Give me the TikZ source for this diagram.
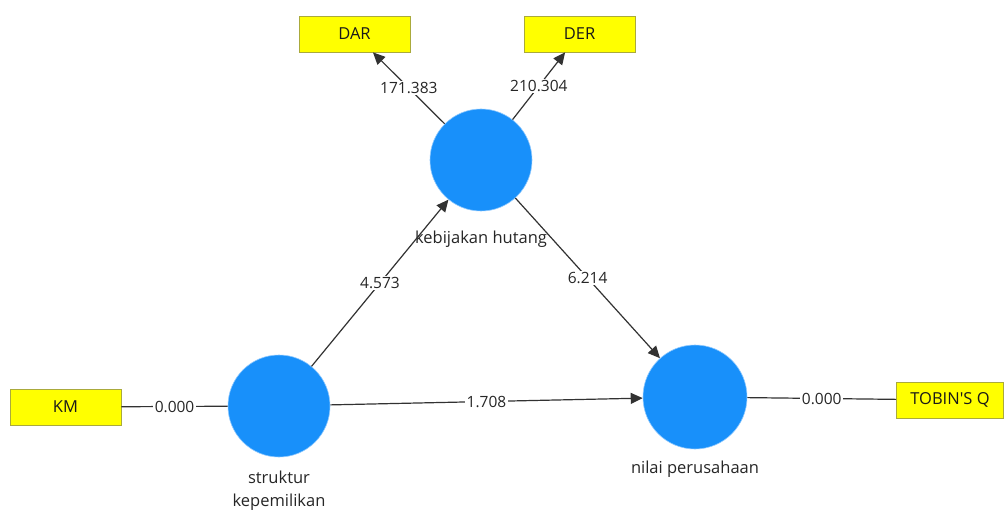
\documentclass[tikz,border=0pt]{standalone}
\usepackage{fontspec}
\setmainfont{Open Sans}
\usetikzlibrary{arrows.meta}
\definecolor{lvblue}{RGB}{24,144,250}
\definecolor{lvborder}{RGB}{140,200,255}
\definecolor{indyellow}{RGB}{255,255,0}
\definecolor{indborder}{RGB}{170,170,60}
\definecolor{edgegray}{RGB}{50,50,50}
\begin{document}
\begin{tikzpicture}[x=1pt,y=-1pt,
  lv/.style={circle,fill=lvblue,draw=lvborder,line width=0.6pt,minimum size=102pt,inner sep=0pt},
  ind/.style={rectangle,fill=indyellow,draw=indborder,line width=0.8pt,minimum width=111pt,minimum height=36pt,inner sep=0pt,font=\fontsize{16.5}{18}\selectfont,text=black!90},
  lvlabel/.style={font=\fontsize{16.5}{23}\selectfont,text=black!85,align=center},
  conn/.style={draw=edgegray,line width=1.2pt},
  arr/.style={conn,-{Triangle[length=12pt,width=11pt]}},
  wt/.style={fill=white,inner sep=1.5pt,font=\fontsize{15.5}{17}\selectfont,text=black!85}
]
\useasboundingbox (0,0) rectangle (1005,516);
\fill[white] (0,0) rectangle (1005,516);
% latent variables
\node[lv] (kh) at (481,160) {};
\node[lv] (sk) at (279,406) {};
\node[lv,minimum size=104pt] (np) at (695,397) {};
% indicators
\node[ind] (dar) at (354.5,34) {DAR};
\node[ind] (der) at (579.5,34) {DER};
\node[ind] (km) at (65.5,407) {KM};
\node[ind,minimum width=107pt] (tq) at (950,400) {TOBIN\textquotesingle S Q};
% latent labels
\node[lvlabel] (khl) at (481,239) {kebijakan hutang};
\node[lvlabel] (skl) at (279,491) {struktur\\kepemilikan};
\node[lvlabel] (npl) at (695,469) {nilai perusahaan};
% connectors
\draw[arr] (kh) -- node[wt]{171.383} (dar);
\draw[arr] (kh) -- node[wt]{210.304} (der);
\draw[arr] (sk) -- node[wt]{4.573} (kh);
\draw[arr] (kh) -- node[wt]{6.214} (np);
\draw[arr] (sk) -- node[wt]{1.708} (np);
\draw[conn] (km) -- node[wt]{0.000} (sk);
\draw[conn] (np) -- node[wt]{0.000} (tq);
\end{tikzpicture}
\end{document}
